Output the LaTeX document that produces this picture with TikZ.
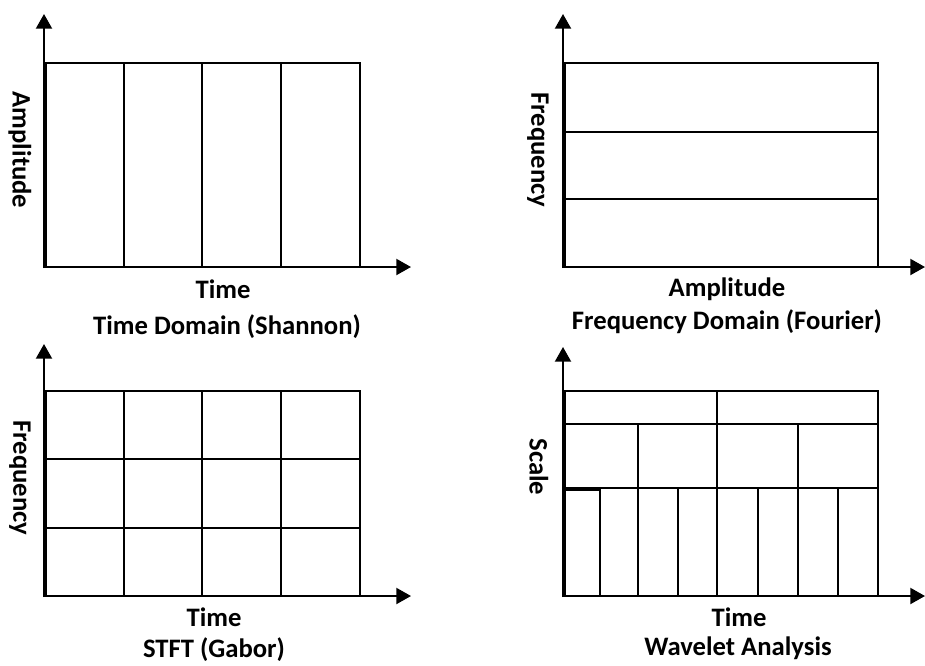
\documentclass[tikz,border=0pt]{standalone}
\usepackage{fontspec}
\setmainfont{Carlito}
\usetikzlibrary{arrows.meta}
\tikzset{
  eje/.style={line width=1.5pt,-{Triangle[length=11pt,width=12pt]}},
  celda/.style={line width=1.4pt},
  rotulo/.style={font=\bfseries\fontsize{20}{24}\selectfont},
  rotuloy/.style={rotulo,rotate=-90},
}

\begin{document}
\begin{tikzpicture}[x=0.75pt,y=-0.75pt]
  \useasboundingbox (0,0) rectangle (925,665);
  % Dominio del tiempo (Shannon)
  \draw[celda] (46,63) rectangle (360,267);
  \foreach \xx in {124,202,281} \draw[celda] (\xx,63) -- (\xx,267);
  \draw[eje] (44,268) -- (44,14);
  \draw[eje] (44,267) -- (411,267);
  \node[rotuloy] (ampA) at (20,150) {Amplitude};
  \node[rotulo] (timeA) at (223,289) {Time};
  \node[rotulo] (titA) at (227,327) {Time Domain (Shannon)};
  % Dominio de la frecuencia (Fourier)
  \draw[celda] (565,63) rectangle (878,267);
  \foreach \yy in {132,199} \draw[celda] (565,\yy) -- (878,\yy);
  \draw[eje] (563,268) -- (563,14);
  \draw[eje] (563,267) -- (925,267);
  \node[rotuloy] (freqB) at (538,150) {Frequency};
  \node[rotulo] (ampB) at (727,289) {Amplitude};
  \node[rotulo] (titB) at (727,322) {Frequency Domain (Fourier)};
  % STFT (Gabor)
  \draw[celda] (46,391) rectangle (360,596);
  \foreach \xx in {124,202,281} \draw[celda] (\xx,391) -- (\xx,596);
  \foreach \yy in {459,528} \draw[celda] (46,\yy) -- (360,\yy);
  \draw[eje] (44,597) -- (44,344);
  \draw[eje] (44,596) -- (411,596);
  \node[rotuloy] (freqC) at (20,478) {Frequency};
  \node[rotulo] (timeC) at (214,617) {Time};
  \node[rotulo] (titC) at (214,650) {STFT (Gabor)};
  % Wavelet
  \draw[celda] (565,391) rectangle (878,596);
  \foreach \yy in {424,488} \draw[celda] (565,\yy) -- (878,\yy);
  \draw[celda] (717,391) -- (717,424);
  \foreach \xx in {638,717,798} \draw[celda] (\xx,424) -- (\xx,488);
  \foreach \xx in {638,678,717,758,798,838} \draw[celda] (\xx,488) -- (\xx,596);
  \draw[celda] (565,490) rectangle (600,596);
  \draw[eje] (563,597) -- (563,347);
  \draw[eje] (563,596) -- (925,596);
  \node[rotuloy] (escD) at (539,467) {Scale};
  \node[rotulo] (timeD) at (739,617) {Time};
  \node[rotulo] (titD) at (738,648) {Wavelet Analysis};
\end{tikzpicture}
\end{document}
